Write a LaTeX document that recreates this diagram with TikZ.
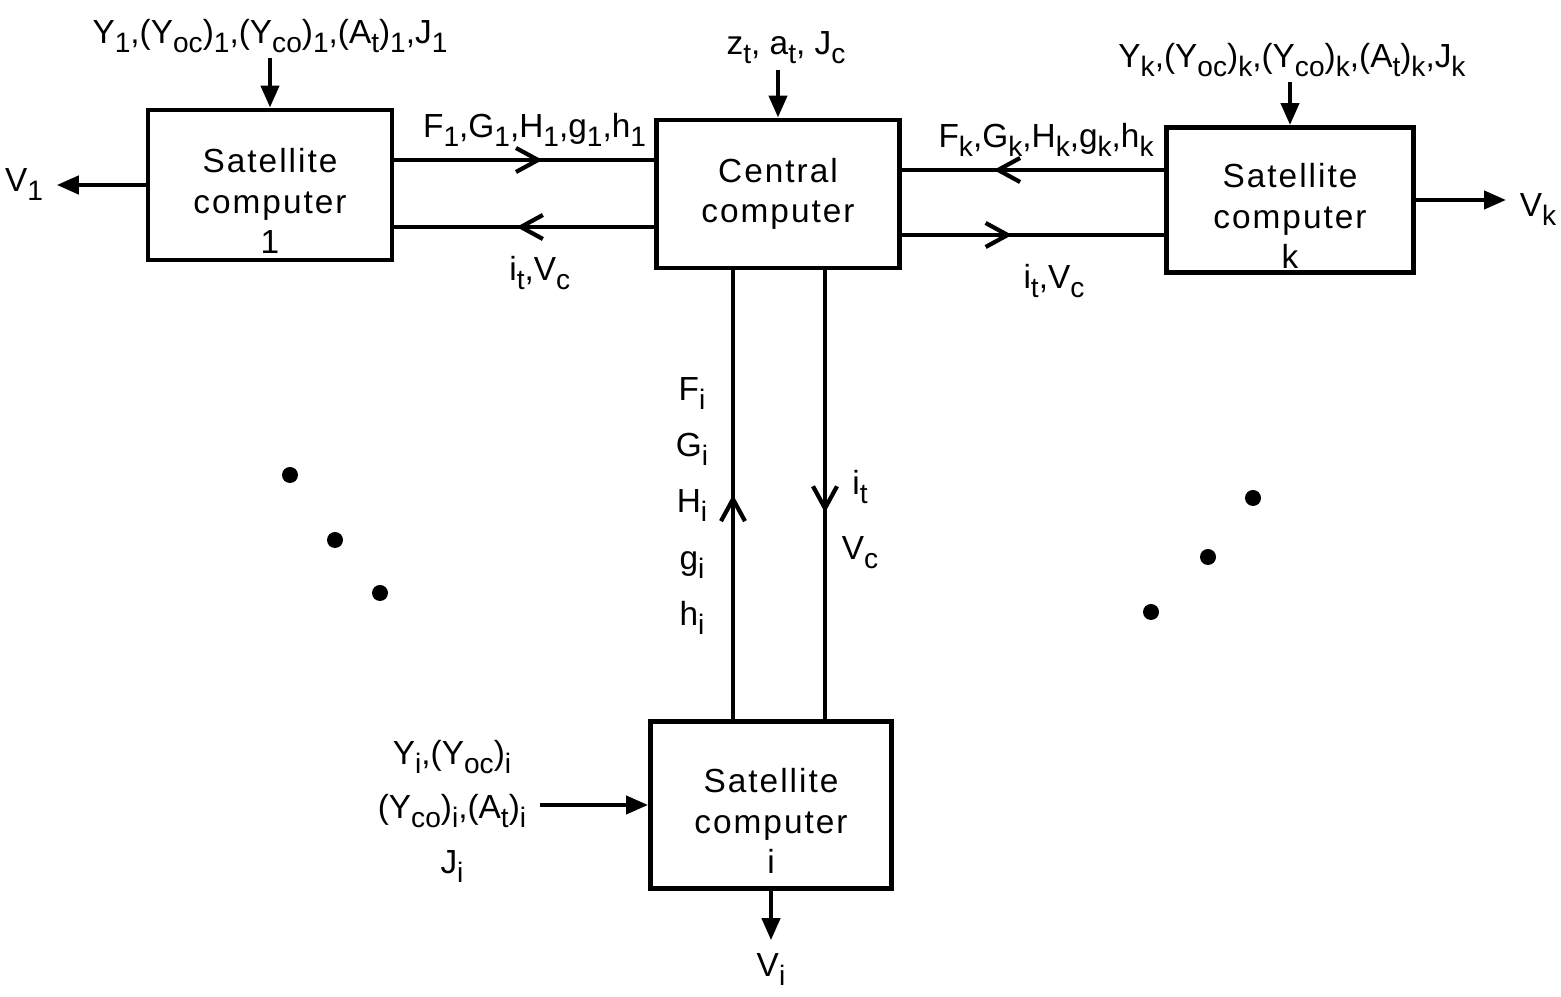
\documentclass[tikz,border=0pt]{standalone}
\usepackage{fontspec}
\setmainfont{Liberation Sans}
\newfontfamily\boxfont[LetterSpace=6]{Liberation Sans}
\usetikzlibrary{positioning,arrows.meta,decorations.markings}
\newcommand{\lo}[1]{\raisebox{-0.9mm}{\fontsize{8}{9}\selectfont #1}}
\newcommand{\topgap}{\rule{0pt}{16pt}}
\tikzset{
  cmp/.style={draw, line width=1.4pt, align=center, inner ysep=1pt,
    font=\boxfont\fontsize{9.5}{11.5}\selectfont},
  sig/.style={-{Triangle[length=2.2mm,width=1.8mm]}},
  inp/.style={inner sep=1pt},
  midarr/.style={postaction={decorate}, decoration={markings,
    mark=at position #1 with {\arrow{Straight Barb[length=2.2mm,width=2.4mm]}}}}}

\begin{document}
\begin{tikzpicture}[font=\fontsize{9.5}{11.5}\selectfont, line width=1.2pt]
\useasboundingbox (0,0) rectangle (15.61,-9.97);
\node[cmp, minimum width=24.4mm, minimum height=15mm] (sat1) at (2.70,-1.85) {\topgap Satellite\\computer\\1};
\node[cmp, minimum width=24.3mm, minimum height=14.8mm] (cen) at (7.78,-1.94) {Central\\computer};
\node[cmp, minimum width=24.7mm, minimum height=14.5mm] (satk) at (12.90,-2.00) {\topgap Satellite\\computer\\k};
\node[cmp, minimum width=24.1mm, minimum height=16.7mm] (sati) at (7.71,-8.05) {\topgap Satellite\\computer\\i};
\node[inp] (in1) at (2.70,-0.36) {Y\lo{1},(Y\lo{oc})\lo{1},(Y\lo{co})\lo{1},(A\lo{t})\lo{1},J\lo{1}};
\node[inp] (inc) at (7.86,-0.48) {z\lo{t}, a\lo{t}, J\lo{c}};
\node[inp] (ink) at (12.92,-0.60) {Y\lo{k},(Y\lo{oc})\lo{k},(Y\lo{co})\lo{k},(A\lo{t})\lo{k},J\lo{k}};
\draw[sig] (in1.south -| sat1.north) -- (sat1.north);
\draw[sig] (inc.south -| cen.north) -- (cen.north);
\draw[sig] (ink.south -| satk.north) -- (satk.north);
\coordinate (ra) at (0,-1.60);
\coordinate (rb) at (0,-2.27);
\coordinate (rc) at (0,-1.70);
\coordinate (rd) at (0,-2.35);
\coordinate (ca) at (7.33,0);
\coordinate (cb) at (8.25,0);
\draw[midarr=0.57] (sat1.east |- ra) -- (cen.west |- ra) node[pos=0.54, above=0pt] {F\lo{1},G\lo{1},H\lo{1},g\lo{1},h\lo{1}};
\draw[midarr=0.53] (cen.west |- rb) -- (sat1.east |- rb) node[pos=0.44, below=1.5mm] {i\lo{t},V\lo{c}};
\draw[midarr=0.65] (satk.west |- rc) -- (cen.east |- rc) node[pos=0.45, above=0pt] {F\lo{k},G\lo{k},H\lo{k},g\lo{k},h\lo{k}};
\draw[midarr=0.42] (cen.east |- rd) -- (satk.west |- rd) node[pos=0.58, below=1.5mm] {i\lo{t},V\lo{c}};
\draw[midarr=0.5] (sati.north -| ca) -- (cen.south -| ca);
\draw[midarr=0.54] (cen.south -| cb) -- (sati.north -| cb);
\node[align=center] (fi) at (6.92,-5.06) {F\lo{i}\\[4.5pt]G\lo{i}\\[4.5pt]H\lo{i}\\[4.5pt]g\lo{i}\\[4.5pt]h\lo{i}};
\node[align=center] (it) at (8.60,-5.20) {i\lo{t}\\[7pt]V\lo{c}};
\node[align=center] (ini) at (4.52,-8.11) {Y\lo{i},(Y\lo{oc})\lo{i}\\[4pt](Y\lo{co})\lo{i},(A\lo{t})\lo{i}\\[4pt]J\lo{i}};
\draw[sig] (ini.east |- sati.west) -- (sati.west);
\node (v1) at (0.24,-1.85) {V\lo{1}};
\node (vk) at (15.38,-2.10) {V\lo{k}};
\node (vi) at (7.71,-9.70) {V\lo{i}};
\draw[sig] (sat1.west) -- (v1.east);
\draw[sig] (satk.east) -- (satk.east -| vk.west);
\draw[sig] (sati.south) -- (vi.north);
\fill (2.90,-4.75) circle (0.8mm);
\fill (3.35,-5.40) circle (0.8mm);
\fill (3.80,-5.93) circle (0.8mm);
\fill (12.53,-4.98) circle (0.8mm);
\fill (12.08,-5.57) circle (0.8mm);
\fill (11.51,-6.12) circle (0.8mm);
\end{tikzpicture}
\end{document}
